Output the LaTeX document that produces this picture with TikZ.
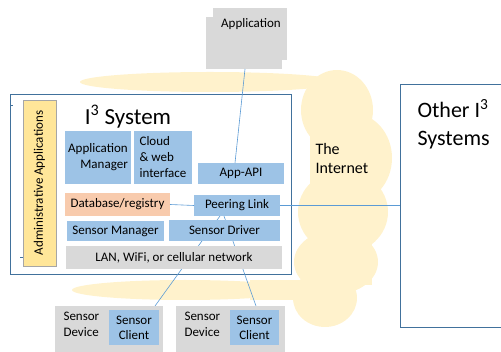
\documentclass[tikz,border=0pt]{standalone}
\usepackage{fontspec}
\setmainfont{Carlito}

\definecolor{boxblue}{HTML}{9DC3E6}
\definecolor{boxgray}{HTML}{D9D9D9}
\definecolor{boxsalmon}{HTML}{F8CBAD}
\definecolor{boxyellow}{HTML}{FFE699}
\definecolor{cloudy}{HTML}{FFF2CC}
\definecolor{linkblue}{HTML}{5B9BD5}
\definecolor{frameblue}{HTML}{41719C}

\pgfdeclarelayer{back}
\pgfdeclarelayer{wires}
\pgfsetlayers{back,wires,main}

\tikzset{
	part/.style={fill=boxblue, inner sep=0pt, outer sep=0pt, align=center, font=\fontsize{13}{16}\selectfont},
	greypart/.style={part, fill=boxgray},
	frame/.style={draw=frameblue, fill=white, inner sep=0pt, outer sep=0pt},
	link/.style={draw=linkblue, line width=0.6pt}
}

\begin{document}
\begin{tikzpicture}[x=1pt, y=-1pt]
			\useasboundingbox (0,0) rectangle (501,352);
			\clip (0,0) rectangle (501,352);

			\begin{pgfonlayer}{back}
			% the internet cloud
			\begin{scope}[fill=cloudy]
			\fill (210,82) ellipse [x radius=130pt, y radius=10pt];
			\fill (185,290) ellipse [x radius=113pt, y radius=10pt];
			\fill (250,280) rectangle (310,300);
			\fill (337,110) ellipse [x radius=36pt, y radius=40pt];
			\fill (352,158) ellipse [x radius=40pt, y radius=45pt];
			\fill (343,212) ellipse [x radius=45pt, y radius=42pt];
			\fill (336,262) ellipse [x radius=42pt, y radius=32pt];
			\fill (325,298) ellipse [x radius=32pt, y radius=29pt];
			\fill (310,120) rectangle (372,285);
			\end{scope}

			% the I3 system
			\node[frame, minimum width=281pt, minimum height=180pt] (sys) at (150.5,184) {};
			\draw[frameblue] (10,105) -- (13,105);
			\draw[frameblue] (20,257) -- (23,257);
			\end{pgfonlayer}

			\node[anchor=west, align=left, font=\fontsize{16}{19}\selectfont] (inet) at (312,159) {The\\Internet};

			% application on top
			\fill[boxgray] (213,8) rectangle (287,60);
			\node[greypart, minimum width=76pt, minimum height=52pt] (app) at (244,43) {};
			\node[font=\fontsize{13}{16}\selectfont] (apptext) at (251,24) {Application};

			\node[font=\fontsize{23}{26}\selectfont] (systitle) at (128,117) {I\textsuperscript{3} System};

			\node[draw=gray!70, fill=boxyellow, inner sep=0pt, minimum width=33pt, minimum height=166pt] (admin) at (39.5,183) {};
			\node[rotate=90, font=\fontsize{13}{16}\selectfont] (admintext) at (admin.center) {Administrative Applications};

			\node[part, minimum width=66pt, minimum height=53pt, align=right] (appmgr) at (98,157.5) {Application\\Manager};
			\node[part, minimum width=58pt, minimum height=53pt, align=left] (cloudweb) at (163,157.5) {Cloud\\\& web\\interface};
			\node[part, minimum width=86pt, minimum height=21pt] (appapi) at (241,173.5) {App-API};
			\node[part, fill=boxsalmon, minimum width=105pt, minimum height=23pt] (db) at (117.5,204.5) {Database/registry};
			\node[part, minimum width=86pt, minimum height=21pt] (peer) at (237,205.5) {Peering Link};
			\node[part, minimum width=97pt, minimum height=20pt] (sensmgr) at (115.5,231) {Sensor Manager};
			\node[part, minimum width=111pt, minimum height=21pt] (sensdrv) at (224.5,230.5) {Sensor Driver};
			\node[greypart, minimum width=216pt, minimum height=23pt] (lan) at (174,257.5) {LAN, WiFi, or cellular network};

			% sensor devices
			\node[greypart, minimum width=108pt, minimum height=50pt] (dev1) at (109,331) {};
			\node[greypart, minimum width=109pt, minimum height=50pt] (dev2) at (230.5,331) {};
			\node[anchor=west, align=left, font=\fontsize{13}{16}\selectfont] (dev1text) at (60,324) {Sensor\\Device};
			\node[anchor=west, align=left, font=\fontsize{13}{16}\selectfont] (dev2text) at (181,324) {Sensor\\Device};
			\node[part, minimum width=50pt, minimum height=35pt, font=\fontsize{13}{15}\selectfont] (client1) at (134,327.5) {Sensor\\Client};
			\node[part, minimum width=49pt, minimum height=35pt, font=\fontsize{13}{15}\selectfont] (client2) at (254.5,327.5) {Sensor\\Client};

			\begin{pgfonlayer}{wires}
			\draw[link] ([xshift=46pt]dev1.north) -- ([xshift=-17pt]peer.south);
			\draw[link] ([xshift=25.5pt]dev2.north) -- ([xshift=-13pt]peer.south);
			\end{pgfonlayer}

			% other systems
			\node[frame, minimum width=110pt, minimum height=243pt] (other) at (455,205.5) {};
			\node[anchor=north west, align=left, font=\fontsize{22}{28}\selectfont] (othertext) at (414,96) {Other I\textsuperscript{3}\\Systems};

			% connectors
			\draw[link] ([xshift=1pt]app.south) -- ([xshift=-6pt]appapi.north);
			\draw[link] (db.east) -- (peer.west);
			\draw[link] (peer.east) -- (peer.east -| other.west);
		\end{tikzpicture}
\end{document}
